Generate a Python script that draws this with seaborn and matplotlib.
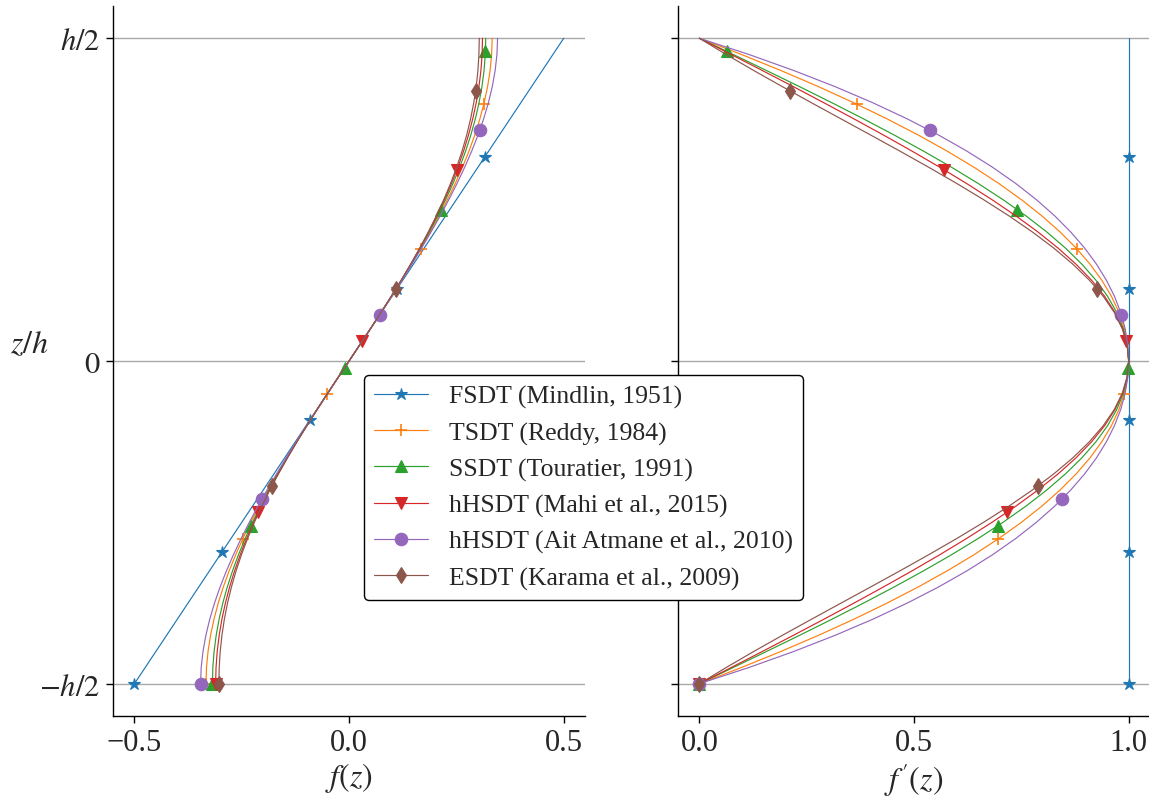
import matplotlib
matplotlib.use("Agg")
import matplotlib.pyplot as plt
from matplotlib.lines import Line2D
import seaborn as sns
import pandas as pd

# ---------------- data ----------------
labels = ["FSDT (Mindlin, 1951)", "TSDT (Reddy, 1984)", "SSDT (Touratier, 1991)",
          "hHSDT (Mahi et al., 2015)", "hHSDT (Ait Atmane et al., 2010)",
          "ESDT (Karama et al., 2009)"]

z_grid = [-0.500, -0.475, -0.450, -0.425, -0.400, -0.375, -0.350, -0.325, -0.300, -0.275,
          -0.250, -0.225, -0.200, -0.175, -0.150, -0.125, -0.100, -0.075, -0.050, -0.025,
          0.000,
          0.025, 0.050, 0.075, 0.100, 0.125, 0.150, 0.175, 0.200, 0.225, 0.250,
          0.275, 0.300, 0.325, 0.350, 0.375, 0.400, 0.425, 0.450, 0.475, 0.500]

# FSDT
z_fsdt = [-0.5, 0.5]
f_fsdt = [-0.5, 0.5]
df_fsdt = [1.0, 1.0]

# TSDT
f_tsdt = [-0.33333, -0.33210, -0.32850, -0.32265, -0.31467, -0.30469, -0.29283, -0.27923, -0.26400, -0.24727,
          -0.22917, -0.20981, -0.18933, -0.16785, -0.14550, -0.12240, -0.09867, -0.07444, -0.04983, -0.02498,
          0.0,
          0.02498, 0.04983, 0.07444, 0.09867, 0.12240, 0.14550, 0.16785, 0.18933, 0.20981, 0.22917,
          0.24727, 0.26400, 0.27923, 0.29283, 0.30469, 0.31467, 0.32265, 0.32850, 0.33210, 0.33333]
df_tsdt = [0.0, 0.0975, 0.19, 0.2775, 0.36, 0.4375, 0.51, 0.5775, 0.64, 0.6975,
           0.75, 0.7975, 0.84, 0.8775, 0.91, 0.9375, 0.96, 0.9775, 0.99, 0.9975,
           1.0,
           0.9975, 0.99, 0.9775, 0.96, 0.9375, 0.91, 0.8775, 0.84, 0.7975, 0.75,
           0.6975, 0.64, 0.5775, 0.51, 0.4375, 0.36, 0.2775, 0.19, 0.0975, 0.0]

# SSDT
f_ssdt = [-0.31831, -0.31733, -0.31439, -0.30952, -0.30273, -0.29408, -0.28362, -0.27140, -0.25752, -0.24205,
          -0.22508, -0.20673, -0.18710, -0.16632, -0.14451, -0.12181, -0.09836, -0.07431, -0.04979, -0.02497,
          0.0,
          0.02497, 0.04979, 0.07431, 0.09836, 0.12181, 0.14451, 0.16632, 0.18710, 0.20673, 0.22508,
          0.24205, 0.25752, 0.27140, 0.28362, 0.29408, 0.30273, 0.30952, 0.31439, 0.31733, 0.31831]
df_ssdt = [0.0, 0.07846, 0.15643, 0.23345, 0.30902, 0.38268, 0.45399, 0.52250, 0.58779, 0.64945,
           0.70711, 0.76041, 0.80902, 0.85264, 0.89101, 0.92388, 0.95106, 0.97237, 0.98769, 0.99692,
           1.0,
           0.99692, 0.98769, 0.97237, 0.95106, 0.92388, 0.89101, 0.85264, 0.80902, 0.76041, 0.70711,
           0.64945, 0.58779, 0.52250, 0.45399, 0.38268, 0.30902, 0.23345, 0.15643, 0.07846, 0.0]

# hHSDT (Mahi)
f_mahi = [-0.31080, -0.30988, -0.30712, -0.30255, -0.29618, -0.28805, -0.27818, -0.26661, -0.25341, -0.23862,
          -0.22231, -0.20457, -0.18550, -0.16519, -0.14377, -0.12137, -0.09813, -0.07421, -0.04976, -0.02497,
          0.0,
          0.02497, 0.04976, 0.07421, 0.09813, 0.12137, 0.14377, 0.16519, 0.18550, 0.20457, 0.22231,
          0.23862, 0.25341, 0.26661, 0.27818, 0.28805, 0.29618, 0.30255, 0.30712, 0.30988, 0.31080]
df_mahi = [0.0, 0.07370, 0.14674, 0.21899, 0.29027, 0.36035, 0.42895, 0.49575, 0.56039, 0.62244,
           0.68146, 0.73696, 0.78844, 0.83540, 0.87734, 0.91377, 0.94424, 0.96838, 0.98587, 0.99645,
           1.0,
           0.99645, 0.98587, 0.96838, 0.94424, 0.91377, 0.87734, 0.83540, 0.78844, 0.73696, 0.68146,
           0.62244, 0.56039, 0.49575, 0.42895, 0.36035, 0.29027, 0.21899, 0.14674, 0.07370, 0.0]

# hHSDT (Ait Atmane)
f_ait = [-0.34592, -0.34447, -0.34027, -0.33355, -0.32452, -0.31340, -0.30036, -0.28559, -0.26924, -0.25147,
         -0.23244, -0.21227, -0.19111, -0.16907, -0.14628, -0.12285, -0.09890, -0.07454, -0.04986, -0.02498,
         0.0,
         0.02498, 0.04986, 0.07454, 0.09890, 0.12285, 0.14628, 0.16907, 0.19111, 0.21227, 0.23244,
         0.25147, 0.26924, 0.28559, 0.30036, 0.31340, 0.32452, 0.33355, 0.34027, 0.34447, 0.34592]
df_ait = [0.0, 0.11476, 0.21996, 0.31626, 0.40425, 0.48447, 0.55742, 0.62355, 0.68327, 0.73695,
          0.78490, 0.82746, 0.86484, 0.89731, 0.92505, 0.94825, 0.96702, 0.98152, 0.99181, 0.99796,
          1.0,
          0.99796, 0.99181, 0.98152, 0.96702, 0.94825, 0.92505, 0.89731, 0.86484, 0.82746, 0.78490,
          0.73695, 0.68327, 0.62355, 0.55742, 0.48447, 0.40425, 0.31626, 0.21996, 0.11476, 0.0]

# ESDT
f_esdt = [-0.30327, -0.30250, -0.30014, -0.29614, -0.29046, -0.28307, -0.27395, -0.26311, -0.25058, -0.23640,
          -0.22062, -0.20333, -0.18462, -0.16460, -0.14340, -0.12115, -0.09802, -0.07416, -0.04975, -0.02497,
          0.0,
          0.02497, 0.04975, 0.07416, 0.09802, 0.12115, 0.14340, 0.16460, 0.18462, 0.20333, 0.22062,
          0.23640, 0.25058, 0.26311, 0.27395, 0.28307, 0.29046, 0.29614, 0.30014, 0.30250, 0.30327]
df_esdt = [0.0, 0.06209, 0.12673, 0.19336, 0.26141, 0.33024, 0.39918, 0.46753, 0.53457, 0.59959,
           0.66187, 0.72071, 0.77542, 0.82537, 0.86996, 0.90866, 0.94099, 0.96657, 0.98506, 0.99625,
           1.0,
           0.99625, 0.98506, 0.96657, 0.94099, 0.90866, 0.86996, 0.82537, 0.77542, 0.72071, 0.66187,
           0.59959, 0.53457, 0.46753, 0.39918, 0.33024, 0.26141, 0.19336, 0.12673, 0.06209, 0.0]

# marker positions
zm_fsdt = [-0.5, -0.29592, -0.09184, 0.11224, 0.31633]
fm_fsdt = [-0.5, -0.29592, -0.09184, 0.11224, 0.31633]
dfm_fsdt = [1.0, 1.0, 1.0, 1.0, 1.0]

zm_tsdt = [-0.5, -0.27551, -0.05102, 0.17347, 0.39796]
fm_tsdt = [-0.33333, -0.24763, -0.05084, 0.16651, 0.31393]
dfm_tsdt = [0.0, 0.69638, 0.98959, 0.87963, 0.36651]

zm_ssdt = [-0.5, -0.25510, -0.01020, 0.23469, 0.47959]
fm_ssdt = [-0.31831, -0.22866, -0.01020, 0.21400, 0.31766]
dfm_ssdt = [0.0, 0.69568, 0.99949, 0.74028, 0.06408]

zm_mahi = [-0.5, -0.23469, 0.03061, 0.29592]
fm_mahi = [-0.31080, -0.21161, 0.03056, 0.25110]
dfm_mahi = [0.0, 0.71588, 0.99469, 0.57071]

zm_ait = [-0.5, -0.21429, 0.07143, 0.35714]
fm_ait = [-0.34592, -0.20332, 0.07103, 0.30427]
dfm_ait = [0.0, 0.84410, 0.98325, 0.53729]

zm_esdt = [-0.5, -0.19388, 0.11224, 0.41837]
fm_esdt = [-0.30327, -0.17984, 0.10945, 0.29480]
dfm_esdt = [0.0, 0.78811, 0.92597, 0.21131]

ytick_vals = [-0.5, 0.0, 0.5]
ytick_labels = [r"$-h/2$", r"$0$", r"$h/2$"]
xticks_left = [-0.5, 0.0, 0.5]
xticks_right = [0.0, 0.5, 1.0]

# ---------------- style ----------------
sns.set_style("ticks")
plt.rcParams["font.family"] = ["Liberation Serif", "DejaVu Serif"]
plt.rcParams["mathtext.fontset"] = "stix"
plt.rcParams["axes.unicode_minus"] = True

colors = sns.color_palette("tab10", 6)
markers = ["*", "+", "^", "v", "o", "d"]
msizes = [9, 9, 9, 9, 9, 8]

lines_z = [z_fsdt, z_grid, z_grid, z_grid, z_grid, z_grid]
lines_f = [f_fsdt, f_tsdt, f_ssdt, f_mahi, f_ait, f_esdt]
lines_df = [df_fsdt, df_tsdt, df_ssdt, df_mahi, df_ait, df_esdt]
mk_z = [zm_fsdt, zm_tsdt, zm_ssdt, zm_mahi, zm_ait, zm_esdt]
mk_f = [fm_fsdt, fm_tsdt, fm_ssdt, fm_mahi, fm_ait, fm_esdt]
mk_df = [dfm_fsdt, dfm_tsdt, dfm_ssdt, dfm_mahi, dfm_ait, dfm_esdt]

fig = plt.figure(figsize=(11.49, 8.03), dpi=100)
ax1 = fig.add_axes([0.0983, 0.1071, 0.411, 0.8842])
ax2 = fig.add_axes([0.590, 0.1071, 0.411, 0.8842], sharey=ax1)

lw = 0.85
for ax, vals, mvals in [(ax1, lines_f, mk_f), (ax2, lines_df, mk_df)]:
    for i in range(6):
        d = pd.DataFrame({"x": vals[i], "z": lines_z[i]})
        sns.lineplot(data=d, x="x", y="z", ax=ax, sort=False, estimator=None,
                     color=colors[i], lw=lw, zorder=2 + i)
        dm = pd.DataFrame({"x": mvals[i], "z": mk_z[i]})
        sns.lineplot(data=dm, x="x", y="z", ax=ax, sort=False, estimator=None,
                     color=colors[i], linestyle="", marker=markers[i],
                     markersize=msizes[i], markeredgewidth=1.2 if markers[i] == "+" else 0.8,
                     markeredgecolor=colors[i], zorder=2 + i)
    ax.set_ylim(-0.55, 0.55)
    ax.set_yticks(ytick_vals)
    ax.yaxis.grid(True, color="#a8a8a8", lw=1.0, zorder=0)
    ax.xaxis.grid(False)
    ax.tick_params(axis="both", labelsize=22, length=5, width=1, color="black", pad=4)
    for sp in ["left", "bottom"]:
        ax.spines[sp].set_color("black")
        ax.spines[sp].set_linewidth(1.0)
    sns.despine(ax=ax)

ax1.set_xlim(-0.55, 0.55)
ax1.set_xticks(xticks_left)
ax1.set_yticklabels(ytick_labels)
ax1.set_xlabel(r"$f(z)$", fontsize=23, labelpad=2)
ax1.set_ylabel(r"$z/h$", fontsize=23, rotation=0)
ax1.yaxis.set_label_coords(-0.178, 0.503)

ax2.set_xlim(-0.05, 1.05)
ax2.set_xticks(xticks_right)
ax2.tick_params(axis="y", labelleft=False)
ax2.set_xlabel(r"$f^{\prime}(z)$", fontsize=23, labelpad=2)
ax2.set_ylabel("")

handles = [Line2D([0], [0], color=colors[i], lw=lw, marker=markers[i],
                  markersize=msizes[i], markeredgecolor=colors[i],
                  markeredgewidth=1.2 if markers[i] == "+" else 0.8)
           for i in range(6)]
leg = fig.legend(handles, labels, loc="center", bbox_to_anchor=(0.508, 0.392),
                 fontsize=18.5, frameon=True, fancybox=True, framealpha=1,
                 edgecolor="black", handlelength=2.1, labelspacing=0.5,
                 borderpad=0.4)
leg.get_frame().set_linewidth(1.0)

fig.savefig("out.png", dpi=100)
